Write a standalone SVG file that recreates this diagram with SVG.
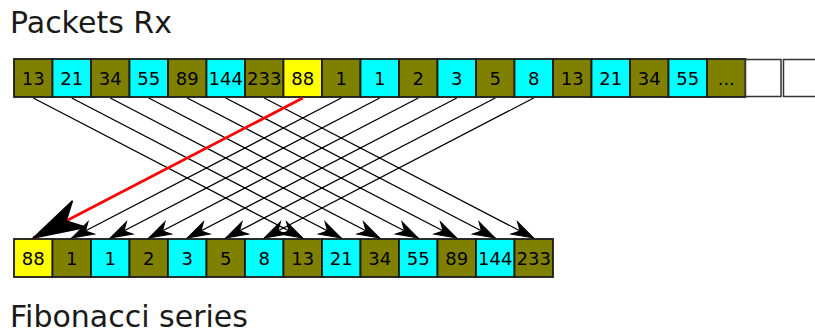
<svg xmlns="http://www.w3.org/2000/svg" width="815" height="333" viewBox="0 0 815 333">
<style>
.b{stroke:#1a1a1a;stroke-width:1.8}
.o{fill:#808000}.c{fill:#00ffff}.y{fill:#ffff00}.w{fill:#ffffff;stroke:#333;stroke-width:1.5}
.t{font-family:"DejaVu Sans",sans-serif;font-size:18px;fill:#000;text-anchor:middle}
.h{font-family:"DejaVu Sans",sans-serif;font-size:30px;fill:#1a1a1a}
.l{stroke:#000;stroke-width:1.3;fill:none}
.r{stroke:#ff0000;stroke-width:2.8;fill:none}
</style>
<defs>
<marker id="ah" markerUnits="userSpaceOnUse" orient="auto" refX="0" refY="0" markerWidth="30" markerHeight="20" overflow="visible">
<path d="M0,0 L-22,-7 L-15.5,0 L-22,7 Z" fill="#000" stroke="#000" stroke-width="1"/>
</marker>
<marker id="ahb" markerUnits="userSpaceOnUse" orient="auto" refX="0" refY="0" markerWidth="60" markerHeight="40" overflow="visible">
<path d="M0,0 L-52,-15 L-37,0 L-52,15 Z" fill="#000" stroke="#000" stroke-width="1.5"/>
</marker>
</defs>
<rect width="815" height="333" fill="#fff"/>
<text class="h" x="10" y="33">Packets Rx</text>
<text class="h" x="10" y="327">Fibonacci series</text>
<g id="rx">
<g id="rx0"><rect class="b o" x="14" y="59" width="38.5" height="38"/><text class="t" x="33.25" y="85">13</text></g>
<g id="rx1"><rect class="b c" x="52.5" y="59" width="38.5" height="38"/><text class="t" x="71.75" y="85">21</text></g>
<g id="rx2"><rect class="b o" x="91" y="59" width="38.5" height="38"/><text class="t" x="110.25" y="85">34</text></g>
<g id="rx3"><rect class="b c" x="129.5" y="59" width="38.5" height="38"/><text class="t" x="148.75" y="85">55</text></g>
<g id="rx4"><rect class="b o" x="168" y="59" width="38.5" height="38"/><text class="t" x="187.25" y="85">89</text></g>
<g id="rx5"><rect class="b c" x="206.5" y="59" width="38.5" height="38"/><text class="t" x="225.75" y="85">144</text></g>
<g id="rx6"><rect class="b o" x="245" y="59" width="38.5" height="38"/><text class="t" x="264.25" y="85">233</text></g>
<g id="rx7"><rect class="b y" x="283.5" y="59" width="38.5" height="38"/><text class="t" x="302.75" y="85">88</text></g>
<g id="rx8"><rect class="b o" x="322" y="59" width="38.5" height="38"/><text class="t" x="341.25" y="85">1</text></g>
<g id="rx9"><rect class="b c" x="360.5" y="59" width="38.5" height="38"/><text class="t" x="379.75" y="85">1</text></g>
<g id="rx10"><rect class="b o" x="399" y="59" width="38.5" height="38"/><text class="t" x="418.25" y="85">2</text></g>
<g id="rx11"><rect class="b c" x="437.5" y="59" width="38.5" height="38"/><text class="t" x="456.75" y="85">3</text></g>
<g id="rx12"><rect class="b o" x="476" y="59" width="38.5" height="38"/><text class="t" x="495.25" y="85">5</text></g>
<g id="rx13"><rect class="b c" x="514.5" y="59" width="38.5" height="38"/><text class="t" x="533.75" y="85">8</text></g>
<g id="rx14"><rect class="b o" x="553" y="59" width="38.5" height="38"/><text class="t" x="572.25" y="85">13</text></g>
<g id="rx15"><rect class="b c" x="591.5" y="59" width="38.5" height="38"/><text class="t" x="610.75" y="85">21</text></g>
<g id="rx16"><rect class="b o" x="630" y="59" width="38.5" height="38"/><text class="t" x="649.25" y="85">34</text></g>
<g id="rx17"><rect class="b c" x="668.5" y="59" width="38.5" height="38"/><text class="t" x="687.75" y="85">55</text></g>
<g id="rx18"><rect class="b o" x="707" y="59" width="38.5" height="38"/><text class="t" x="726.25" y="85">...</text></g>
<g id="rx19"><rect class="w" x="745.5" y="59.5" width="35.5" height="37"/></g>
<g id="rx20"><rect class="w" x="783.5" y="59.5" width="35.5" height="37"/></g>
</g>
<g id="fib">
<g id="fb0"><rect class="b y" x="14" y="239" width="38.5" height="38"/><text class="t" x="33.25" y="265">88</text></g>
<g id="fb1"><rect class="b o" x="52.5" y="239" width="38.5" height="38"/><text class="t" x="71.75" y="265">1</text></g>
<g id="fb2"><rect class="b c" x="91" y="239" width="38.5" height="38"/><text class="t" x="110.25" y="265">1</text></g>
<g id="fb3"><rect class="b o" x="129.5" y="239" width="38.5" height="38"/><text class="t" x="148.75" y="265">2</text></g>
<g id="fb4"><rect class="b c" x="168" y="239" width="38.5" height="38"/><text class="t" x="187.25" y="265">3</text></g>
<g id="fb5"><rect class="b o" x="206.5" y="239" width="38.5" height="38"/><text class="t" x="225.75" y="265">5</text></g>
<g id="fb6"><rect class="b c" x="245" y="239" width="38.5" height="38"/><text class="t" x="264.25" y="265">8</text></g>
<g id="fb7"><rect class="b o" x="283.5" y="239" width="38.5" height="38"/><text class="t" x="302.75" y="265">13</text></g>
<g id="fb8"><rect class="b c" x="322" y="239" width="38.5" height="38"/><text class="t" x="341.25" y="265">21</text></g>
<g id="fb9"><rect class="b o" x="360.5" y="239" width="38.5" height="38"/><text class="t" x="379.75" y="265">34</text></g>
<g id="fb10"><rect class="b c" x="399" y="239" width="38.5" height="38"/><text class="t" x="418.25" y="265">55</text></g>
<g id="fb11"><rect class="b o" x="437.5" y="239" width="38.5" height="38"/><text class="t" x="456.75" y="265">89</text></g>
<g id="fb12"><rect class="b c" x="476" y="239" width="38.5" height="38"/><text class="t" x="495.25" y="265">144</text></g>
<g id="fb13"><rect class="b o" x="514.5" y="239" width="38.5" height="38"/><text class="t" x="533.75" y="265">233</text></g>
</g>
<g id="connectors">
<line class="l" x1="33.25" y1="98" x2="302.75" y2="238" marker-end="url(#ah)"/>
<line class="l" x1="71.75" y1="98" x2="341.25" y2="238" marker-end="url(#ah)"/>
<line class="l" x1="110.25" y1="98" x2="379.75" y2="238" marker-end="url(#ah)"/>
<line class="l" x1="148.75" y1="98" x2="418.25" y2="238" marker-end="url(#ah)"/>
<line class="l" x1="187.25" y1="98" x2="456.75" y2="238" marker-end="url(#ah)"/>
<line class="l" x1="225.75" y1="98" x2="495.25" y2="238" marker-end="url(#ah)"/>
<line class="l" x1="264.25" y1="98" x2="533.75" y2="238" marker-end="url(#ah)"/>
<line class="l" x1="341.25" y1="98" x2="71.75" y2="238" marker-end="url(#ah)"/>
<line class="l" x1="379.75" y1="98" x2="110.25" y2="238" marker-end="url(#ah)"/>
<line class="l" x1="418.25" y1="98" x2="148.75" y2="238" marker-end="url(#ah)"/>
<line class="l" x1="456.75" y1="98" x2="187.25" y2="238" marker-end="url(#ah)"/>
<line class="l" x1="495.25" y1="98" x2="225.75" y2="238" marker-end="url(#ah)"/>
<line class="l" x1="533.75" y1="98" x2="264.25" y2="238" marker-end="url(#ah)"/>
<line class="r" x1="302.75" y1="98" x2="33.25" y2="238" marker-end="url(#ahb)"/>
</g>
</svg>
